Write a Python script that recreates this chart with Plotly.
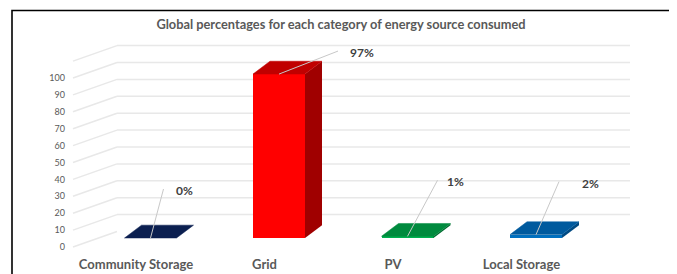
import plotly.graph_objects as go

# ---------------- data ----------------
categories = ["Community Storage", "Grid", "PV", "Local Storage"]
values = [0, 97, 1, 2]
value_labels = ["0%", "97%", "1%", "2%"]
y_tick_values = [0, 10, 20, 30, 40, 50, 60, 70, 80, 90, 100]
grid_levels = [0, 10, 20, 30, 40, 50, 60, 70, 80, 90, 100, 110]

# ---------------- styles ----------------
front_colors = ["#0A1F55", "#FF0000", "#00B050", "#0070C0"]
top_colors = ["#0B1F50", "#C00000", "#008A3E", "#005A9E"]
side_colors = ["#061536", "#A00000", "#006B30", "#004A82"]
label_offsets = [(34, 48), (83, 22), (48, 55), (54, 51)]   # label centre, pixels from bar top
leader_offsets = [(13, 49), (59, 23), (30, 56), (23, 53)]  # leader start, pixels from bar top

FONT = "Lato"
TXT = "#595959"
GRID = "#E8E8E8"

OFF = 8  # page body margin of the html output
PAGE_W, PAGE_H = 677, 274
W, H = PAGE_W - OFF, PAGE_H - OFF


def fx(px):  # page pixel -> figure pixel
    return px - OFF


PLOT_L, PLOT_R, PLOT_T, PLOT_B = fx(70), fx(632), fx(40), fx(255)
ML, MR, MT, MB = PLOT_L, W - PLOT_R, PLOT_T, H - PLOT_B
PX_X = 128.5   # pixels per category step
PX_Y = 1.69    # pixels per value unit
X0_PX, Y0_PX = fx(136), fx(247)  # category 0 / value 0 on the front plane

x_range = [(PLOT_L - X0_PX) / PX_X, (PLOT_R - X0_PX) / PX_X]
y_range = [(Y0_PX - PLOT_B) / PX_Y, (Y0_PX - PLOT_T) / PX_Y]

# perspective offsets (in axis units)
WALL_X0 = (fx(73) - X0_PX) / PX_X
WALL_DX = 44 / PX_X
WALL_DY = 15.5 / PX_Y
WALL_X1 = (fx(630) - X0_PX) / PX_X
BAR_DX = 14.5 / PX_X
BAR_DY = 9 / PX_Y
BAR_W = 52 / PX_X
DEPTH_DX = 17 / PX_X
DEPTH_DY = 7.6

fig = go.Figure()

# walls / gridlines
shapes = []
for lv in grid_levels:
    shapes.append(dict(type="line", xref="x", yref="y", layer="below",
                       x0=WALL_X0, y0=lv, x1=WALL_X0 + WALL_DX, y1=lv + WALL_DY,
                       line=dict(color=GRID, width=1.5)))
    if lv > 0:
        shapes.append(dict(type="line", xref="x", yref="y", layer="below",
                           x0=WALL_X0 + WALL_DX, y0=lv + WALL_DY, x1=WALL_X1, y1=lv + WALL_DY,
                           line=dict(color=GRID, width=1.5)))

# frame
pw, ph = PLOT_R - PLOT_L, PLOT_B - PLOT_T
shapes.append(dict(type="rect", xref="paper", yref="paper",
                   x0=(fx(12) - PLOT_L) / pw, x1=(fx(671.5) - PLOT_L) / pw,
                   y0=(PLOT_B - fx(300)) / ph, y1=(PLOT_B - fx(10.5)) / ph,
                   line=dict(color="black", width=1.6), fillcolor="rgba(0,0,0,0)"))

# front faces
xs = [i + BAR_DX for i in range(len(categories))]
fig.add_trace(go.Bar(x=xs, y=values, base=BAR_DY, width=BAR_W,
                     marker=dict(color=front_colors, line=dict(width=0)),
                     hoverinfo="skip", showlegend=False))

# top and side faces
for i, v in enumerate(values):
    xl = xs[i] - BAR_W / 2
    xr = xs[i] + BAR_W / 2
    yb = BAR_DY
    yt = BAR_DY + v
    if v > 0:
        fig.add_trace(go.Scatter(
            x=[xr, xr + DEPTH_DX, xr + DEPTH_DX, xr, xr],
            y=[yb, yb + DEPTH_DY, yt + DEPTH_DY, yt, yb],
            mode="lines", fill="toself", fillcolor=side_colors[i],
            line=dict(width=0, color=side_colors[i]), hoverinfo="skip", showlegend=False))
    fig.add_trace(go.Scatter(
        x=[xl, xr, xr + DEPTH_DX, xl + DEPTH_DX, xl],
        y=[yt, yt, yt + DEPTH_DY, yt + DEPTH_DY, yt],
        mode="lines", fill="toself", fillcolor=top_colors[i],
        line=dict(width=0.5, color=top_colors[i]), hoverinfo="skip", showlegend=False))

# data labels with leader lines
annotations = []
for i, v in enumerate(values):
    lx, ly = label_offsets[i]
    sx, sy = leader_offsets[i]
    shapes.append(dict(type="line", xref="x", yref="y", layer="above",
                       xsizemode="pixel", ysizemode="pixel",
                       xanchor=xs[i], yanchor=BAR_DY + v,
                       x0=0, y0=0, x1=sx, y1=sy,
                       line=dict(color="#C8C8C8", width=1)))
    annotations.append(dict(
        x=xs[i], y=BAR_DY + v, xref="x", yref="y",
        text=value_labels[i], showarrow=False, xshift=lx, yshift=ly,
        xanchor="center", yanchor="middle",
        font=dict(family=FONT, size=12, color="#404040", weight=700)))

fig.update_layout(
    width=W, height=H,
    margin=dict(l=ML, r=MR, t=MT, b=MB, autoexpand=False),
    paper_bgcolor="white", plot_bgcolor="white",
    title=dict(text="Global percentages for each category of energy source consumed",
               x=(fx(341) - PLOT_L) / pw, xref="paper", xanchor="center",
               y=1 - fx(25) / H, yanchor="middle",
               font=dict(family=FONT, size=12.8, color=TXT, weight=700)),
    shapes=shapes, annotations=annotations,
    xaxis=dict(range=x_range, tickvals=list(range(len(categories))), ticktext=categories,
               showgrid=False, zeroline=False, showline=False, ticks="",
               tickfont=dict(family=FONT, size=13, color=TXT, weight=700), fixedrange=True),
    yaxis=dict(range=y_range, tickvals=y_tick_values, showgrid=False, zeroline=False,
               showline=False, ticks="", ticklabelstandoff=4,
               tickfont=dict(family=FONT, size=9, color=TXT), fixedrange=True),
    bargap=0,
)

fig.write_html("out.html")
